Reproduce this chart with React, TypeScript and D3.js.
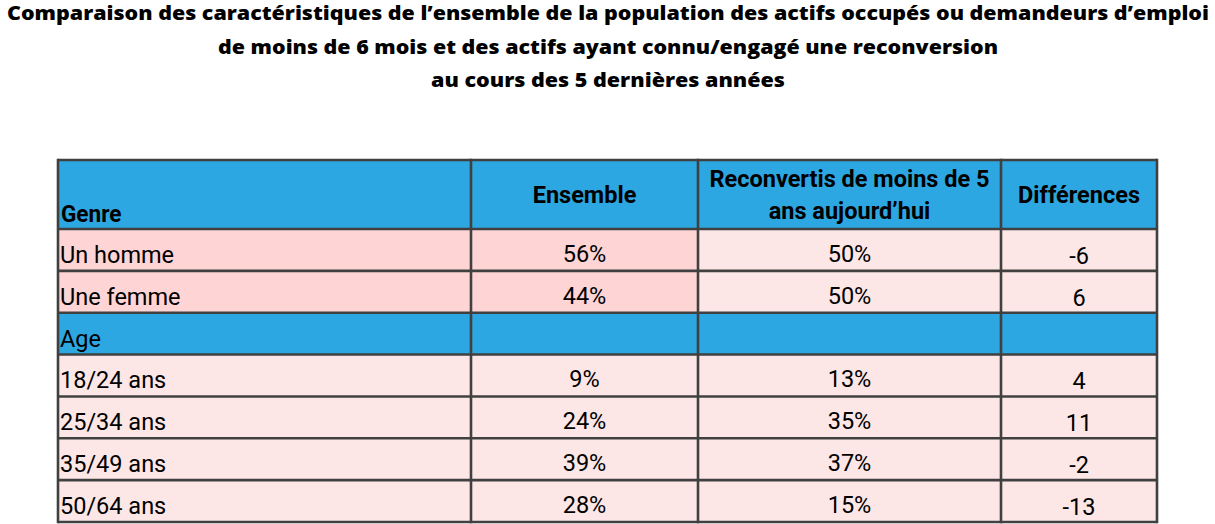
import React from "react";
import * as d3 from "d3";

// Title lines
const titleLines = [
  "Comparaison des caractéristiques de l’ensemble de la population des actifs occupés ou demandeurs d’emploi",
  "de moins de 6 mois et des actifs ayant connu/engagé une reconversion",
  "au cours des 5 dernières années",
];
const titleWidths = [1202, 780, 354];

// Column headers
const firstHeader = "Genre";
const columnHeaders = [
  ["Ensemble"],
  ["Reconvertis de moins de 5", "ans aujourd’hui"],
  ["Différences"],
];

// Rows
const sectionLabel = "Age";
const rowLabels = ["Un homme", "Une femme", "18/24 ans", "25/34 ans", "35/49 ans", "50/64 ans"];
const rowGroup = ["Genre", "Genre", "Age", "Age", "Age", "Age"];
const ensemble = [56, 44, 9, 24, 39, 28];
const reconvertis = [50, 50, 13, 35, 37, 15];
const differences = [-6, 6, 4, 11, -2, -13];

const BLUE = "#2ca7e1";
const PINK = "#ffd4d5";
const LIGHT = "#fde6e6";
const BORDER = "#404040";
const FONT = "Roboto, 'Liberation Sans', sans-serif";

const width = 1215;
const height = 524;

// Table layout
const colEdges = [58, 471, 698, 1001, 1157];
const headerTop = 160;
const headerBottom = 229;
const tableBottom = 522;

type Row = { kind: "section" | "data"; label: string; values?: string[]; group?: string };

const App = () => {
  // Body rows: Genre rows, then the Age band, then age rows
  const rows: Row[] = [];
  rowLabels.forEach((label, i) => {
    if (rowGroup[i] === sectionLabel && (i === 0 || rowGroup[i - 1] !== sectionLabel)) {
      rows.push({ kind: "section", label: sectionLabel });
    }
    rows.push({
      kind: "data",
      label,
      group: rowGroup[i],
      values: [`${ensemble[i]}%`, `${reconvertis[i]}%`, `${differences[i]}`],
    });
  });

  const yScale = d3
    .scaleBand<number>()
    .domain(d3.range(rows.length))
    .range([headerBottom, tableBottom]);

  const colMid = (c: number) => (colEdges[c] + colEdges[c + 1]) / 2;

  return (
    <svg
      width={width}
      height={height}
      style={{ position: "absolute", left: 0, top: 0, background: "#fff" }}
    >
      {/* Title */}
      {titleLines.map((line, i) => (
        <text
          key={`t-${i}`}
          x={608}
          y={20 + i * 33.5}
          textAnchor="middle"
          fontFamily="'Open Sans', 'Liberation Sans', sans-serif"
          fontWeight={800}
          fontSize={20}
          textLength={titleWidths[i]}
          lengthAdjust="spacingAndGlyphs"
          fill="#000"
        >
          {line}
        </text>
      ))}

      {/* Header */}
      <rect
        x={colEdges[0]}
        y={headerTop}
        width={colEdges[4] - colEdges[0]}
        height={headerBottom - headerTop}
        fill={BLUE}
      />
      <text
        x={colEdges[0] + 3}
        y={headerBottom - 7}
        fontFamily={FONT}
        fontWeight="bold"
        fontSize={23.5}
        transform={`translate(${colEdges[0] + 3},0) scale(0.96,1) translate(${-(colEdges[0] + 3)},0)`}
      >
        {firstHeader}
      </text>
      {columnHeaders.map((lines, c) => {
        const cy = (headerTop + headerBottom) / 2;
        const lh = 32;
        const start = cy - ((lines.length - 1) * lh) / 2 + 8;
        const x = colMid(c + 1);
        return (
          <g key={`h-${c}`} transform={`translate(${x},0)`}>
            {lines.map((l, j) => (
              <text
                key={j}
                x={0}
                y={start + j * lh}
                textAnchor="middle"
                fontFamily={FONT}
                fontWeight="bold"
                fontSize={23.5}
              >
                {l}
              </text>
            ))}
          </g>
        );
      })}

      {/* Body */}
      {rows.map((r, i) => {
        const y0 = yScale(i)!;
        const h = yScale.bandwidth();
        return (
          <g key={`r-${i}`}>
            {[0, 1, 2, 3].map((c) => {
              let fill = LIGHT;
              if (r.kind === "section") fill = BLUE;
              else if (r.group === "Genre" && c < 2) fill = PINK;
              return (
                <rect
                  key={c}
                  x={colEdges[c]}
                  y={y0}
                  width={colEdges[c + 1] - colEdges[c]}
                  height={h}
                  fill={fill}
                />
              );
            })}
            <text
              x={colEdges[0] + 2}
              y={y0 + h - 8}
              fontFamily={FONT}
              fontSize={23.5}
              fill="#000"
            >
              {r.label}
            </text>
            {r.values &&
              r.values.map((v, c) => (
                <text
                  key={`v-${c}`}
                  x={colMid(c + 1)}
                  y={y0 + h - 9 + (c === 2 ? 2 : 0)}
                  textAnchor="middle"
                  fontFamily={FONT}
                  fontSize={23.5}
                  fill="#000"
                >
                  {v}
                </text>
              ))}
          </g>
        );
      })}

      {/* Grid lines */}
      {[headerTop, headerBottom, ...rows.map((_, i) => yScale(i)! + yScale.bandwidth())].map((y, i) => (
        <line
          key={`hl-${i}`}
          x1={colEdges[0]}
          x2={colEdges[4]}
          y1={y}
          y2={y}
          stroke={BORDER}
          strokeWidth={2.6}
        />
      ))}
      {colEdges.map((x, i) => (
        <line
          key={`vl-${i}`}
          x1={x}
          x2={x}
          y1={headerTop - 1.3}
          y2={tableBottom + 1.3}
          stroke={BORDER}
          strokeWidth={2.6}
        />
      ))}
    </svg>
  );
};

export default App;
